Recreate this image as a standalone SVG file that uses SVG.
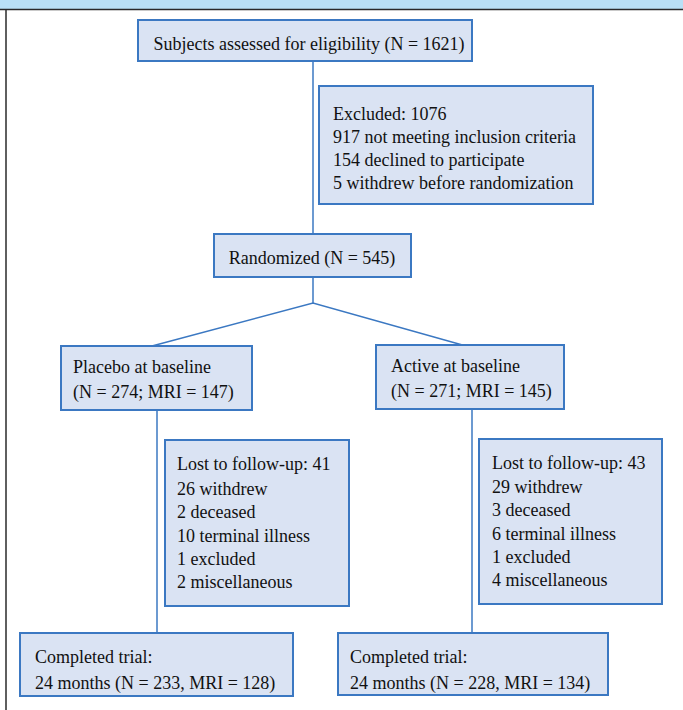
<svg xmlns="http://www.w3.org/2000/svg" width="683" height="710" viewBox="0 0 683 710">
<style>
.box{fill:#dae3f3;stroke:#3b78c2;stroke-width:2}
.t{font-family:"Liberation Serif","Times New Roman",serif;font-size:18px;fill:#111}
.c{stroke:#3b78c2;stroke-width:1.5;fill:none}
</style>
<rect x="0" y="0" width="683" height="710" fill="#ffffff"/>
<rect x="0" y="0" width="683" height="9" fill="#b9e0f6"/>
<line x1="0" y1="9.5" x2="683" y2="9.5" stroke="#2a2a2a" stroke-width="1.5"/>
<line x1="6" y1="9" x2="6" y2="710" stroke="#2a2a2a" stroke-width="1.5"/>
<g id="connectors">
<line class="c" x1="313" y1="62" x2="313" y2="234"/>
<line class="c" x1="313" y1="277" x2="313" y2="303"/>
<polyline class="c" points="152,346 313,303 466,346"/>
<line class="c" x1="157" y1="410" x2="157" y2="633"/>
<line class="c" x1="472" y1="409" x2="472" y2="633"/>
</g>
<g id="assessed">
<rect class="box" x="138" y="20" width="334" height="41"/>
<text class="t" x="309" y="50" text-anchor="middle">Subjects assessed for eligibility (N = 1621)</text>
</g>
<g id="excluded">
<rect class="box" x="319" y="86" width="274" height="118"/>
<text class="t" x="333" y="120">Excluded: 1076</text>
<text class="t" x="333" y="143">917 not meeting inclusion criteria</text>
<text class="t" x="333" y="165.5">154 declined to participate</text>
<text class="t" x="333" y="188.5">5 withdrew before randomization</text>
</g>
<g id="randomized">
<rect class="box" x="214" y="234" width="197" height="43"/>
<text class="t" x="312" y="264" text-anchor="middle">Randomized (N = 545)</text>
</g>
<g id="placebo">
<rect class="box" x="61" y="346" width="191" height="64"/>
<text class="t" x="73" y="373">Placebo at baseline</text>
<text class="t" x="73" y="398">(N = 274; MRI = 147)</text>
</g>
<g id="active">
<rect class="box" x="376" y="345" width="188" height="64"/>
<text class="t" x="391" y="372">Active at baseline</text>
<text class="t" x="391" y="397">(N = 271; MRI = 145)</text>
</g>
<g id="lost-placebo">
<rect class="box" x="165" y="440" width="184" height="166"/>
<text class="t" x="177" y="470">Lost to follow-up: 41</text>
<text class="t" x="177" y="494.5">26 withdrew</text>
<text class="t" x="177" y="517.5">2 deceased</text>
<text class="t" x="177" y="541.5">10 terminal illness</text>
<text class="t" x="177" y="564.5">1 excluded</text>
<text class="t" x="177" y="587.5">2 miscellaneous</text>
</g>
<g id="lost-active">
<rect class="box" x="479" y="439" width="183" height="165"/>
<text class="t" x="492" y="469">Lost to follow-up: 43</text>
<text class="t" x="492" y="493">29 withdrew</text>
<text class="t" x="492" y="516">3 deceased</text>
<text class="t" x="492" y="540">6 terminal illness</text>
<text class="t" x="492" y="563">1 excluded</text>
<text class="t" x="492" y="586">4 miscellaneous</text>
</g>
<g id="completed-placebo">
<rect class="box" x="20" y="633" width="273" height="63"/>
<text class="t" x="35" y="663">Completed trial:</text>
<text class="t" x="35" y="689">24 months (N = 233, MRI = 128)</text>
</g>
<g id="completed-active">
<rect class="box" x="338" y="633" width="270" height="62"/>
<text class="t" x="350" y="663">Completed trial:</text>
<text class="t" x="350" y="689">24 months (N = 228, MRI = 134)</text>
</g>
</svg>
